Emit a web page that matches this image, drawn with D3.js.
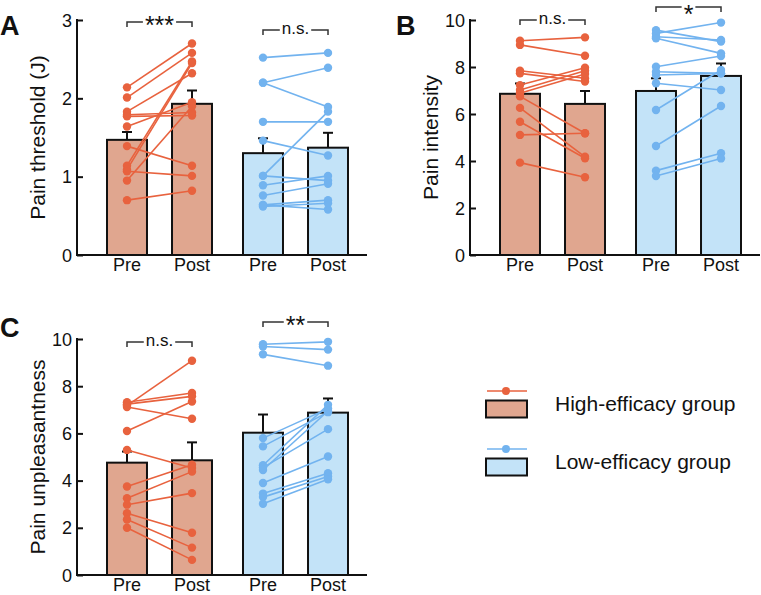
<!DOCTYPE html>
<html lang="en">
<head>
<meta charset="UTF-8">
<title>Pain ratings</title>
<script src="https://d3js.org/d3.v7.min.js"></script>
<style>
  body { margin: 0; background: #fff; }
  svg { display: block; font-family: Arial, "Liberation Sans", sans-serif; }
</style>
</head>
<body>
<svg id="chart" width="761" height="595"></svg>
<script>
// ---- data ----
const groups = ['High', 'Low'];
const phases = ['Pre', 'Post'];
const legendLabels = ['High-efficacy group', 'Low-efficacy group'];

// panel A: pain threshold (J)
const threshHighPre  = [2.14, 2.01, 1.83, 1.79, 1.77, 1.64, 1.39, 1.14, 1.09, 1.07, 0.95, 0.70];
const threshHighPost = [2.70, 2.58, 2.32, 1.82, 1.78, 1.95, 1.14, 2.47, 2.45, 1.01, 1.90, 0.82];
const threshLowPre   = [2.52, 2.20, 2.20, 1.70, 1.46, 1.01, 1.01, 0.89, 0.76, 0.64, 0.64, 0.62];
const threshLowPost  = [2.58, 2.39, 1.89, 1.70, 1.27, 1.83, 0.95, 1.01, 0.91, 0.70, 0.58, 0.66];
const threshMeans = [1.47, 1.93, 1.30, 1.37];
const threshSem   = [0.10, 0.17, 0.19, 0.19];

// panel B: pain intensity
const intensHighPre  = [9.12, 8.94, 7.84, 7.73, 7.23, 7.02, 6.88, 6.75, 6.26, 5.67, 5.11, 3.93];
const intensHighPost = [9.26, 8.48, 7.52, 7.38, 7.97, 7.84, 7.70, 5.18, 4.18, 4.12, 5.18, 3.31];
const intensLowPre   = [9.57, 9.43, 9.29, 9.22, 8.01, 7.80, 7.66, 7.31, 6.17, 4.64, 3.59, 3.36];
const intensLowPost  = [9.08, 9.89, 9.15, 8.58, 8.47, 7.73, 7.73, 7.02, 7.87, 6.34, 4.33, 4.11];
const intensMeans = [6.86, 6.43, 6.98, 7.62];
const intensSem   = [0.44, 0.55, 0.54, 0.53];

// panel C: pain unpleasantness
const unplHighPre  = [7.32, 7.24, 7.18, 7.12, 6.10, 5.30, 3.75, 3.25, 2.98, 2.62, 2.35, 2.00];
const unplHighPost = [7.71, 7.57, 9.08, 6.62, 7.35, 4.53, 4.67, 4.38, 3.47, 1.79, 1.16, 0.64];
const unplLowPre   = [9.78, 9.68, 9.35, 5.80, 5.45, 4.65, 4.55, 4.45, 3.90, 3.45, 3.30, 3.02];
const unplLowPost  = [9.88, 9.55, 8.87, 7.05, 6.90, 7.21, 6.18, 6.95, 5.02, 4.31, 4.17, 4.06];
const unplMeans = [4.76, 4.86, 6.03, 6.88];
const unplSem   = [0.47, 0.76, 0.77, 0.60];

const threshTicks = [0, 1, 2, 3];
const ratingTicks = [0, 2, 4, 6, 8, 10];

// ---- styles ----
const lineColor = { High: '#e8623e', Low: '#72b3ef' };
const barColor  = { High: '#e0a68f', Low: '#c3e3f8' };

const svg = d3.select('#chart');

const panels = [
  { letter: 'A', lx: 0, ly: 35, ax: 77, top: 20, bottom: 255, max: 3, ticks: threshTicks,
    label: 'Pain threshold (J)', means: threshMeans, sem: threshSem,
    pts: { High: [threshHighPre, threshHighPost], Low: [threshLowPre, threshLowPost] },
    sig: [{ g: 'High', y: 22, t: '***' }, { g: 'Low', y: 30, t: 'n.s.' }] },
  { letter: 'B', lx: 396, ly: 35, ax: 470, top: 20, bottom: 255, max: 10, ticks: ratingTicks,
    label: 'Pain intensity', means: intensMeans, sem: intensSem,
    pts: { High: [intensHighPre, intensHighPost], Low: [intensLowPre, intensLowPost] },
    sig: [{ g: 'High', y: 20, t: 'n.s.' }, { g: 'Low', y: 7, t: '*' }] },
  { letter: 'C', lx: 0, ly: 337, ax: 77, top: 339, bottom: 575, max: 10, ticks: ratingTicks,
    label: 'Pain unpleasantness', means: unplMeans, sem: unplSem,
    pts: { High: [unplHighPre, unplHighPost], Low: [unplLowPre, unplLowPost] },
    sig: [{ g: 'High', y: 342, t: 'n.s.' }, { g: 'Low', y: 322, t: '**' }] }
];

const xGroup = d3.scaleBand().domain(groups).range([30, 271]).paddingInner(0.228);
const xPhase = d3.scaleBand().domain(phases).range([0, xGroup.bandwidth()]).paddingInner(0.385);

function drawPanel(p) {
  const g = svg.append('g').attr('transform', `translate(${p.ax},0)`);
  const y = d3.scaleLinear().domain([0, p.max]).range([p.bottom, p.top]);
  const bx = (grp, ph) => xGroup(grp) + xPhase(ph);
  const cx = (grp, ph) => bx(grp, ph) + xPhase.bandwidth() / 2;

  const bars = [];
  groups.forEach((grp, gi) => phases.forEach((ph, pi) => {
    bars.push({ grp, ph, mean: p.means[gi * 2 + pi], sem: p.sem[gi * 2 + pi] });
  }));

  g.selectAll('rect.bar').data(bars).join('rect')
    .attr('class', 'bar')
    .attr('x', d => bx(d.grp, d.ph))
    .attr('y', d => y(d.mean))
    .attr('width', xPhase.bandwidth())
    .attr('height', d => y(0) - y(d.mean))
    .attr('fill', d => barColor[d.grp])
    .attr('stroke', '#111')
    .attr('stroke-width', 2);

  // error bars (up only)
  const eb = g.selectAll('g.err').data(bars).join('g').attr('class', 'err')
    .attr('stroke', '#111').attr('stroke-width', 2);
  eb.append('line')
    .attr('x1', d => cx(d.grp, d.ph)).attr('x2', d => cx(d.grp, d.ph))
    .attr('y1', d => y(d.mean)).attr('y2', d => y(d.mean + d.sem));
  eb.append('line')
    .attr('x1', d => cx(d.grp, d.ph) - 5).attr('x2', d => cx(d.grp, d.ph) + 5)
    .attr('y1', d => y(d.mean + d.sem)).attr('y2', d => y(d.mean + d.sem));

  // paired subject lines and dots
  groups.forEach(grp => {
    const [pre, post] = p.pts[grp];
    const pairs = pre.map((v, i) => [v, post[i]]);
    g.append('g').selectAll('line').data(pairs).join('line')
      .attr('x1', cx(grp, 'Pre')).attr('x2', cx(grp, 'Post'))
      .attr('y1', d => y(d[0])).attr('y2', d => y(d[1]))
      .attr('stroke', lineColor[grp]).attr('stroke-width', 1.6);
    const dots = pre.map(v => [cx(grp, 'Pre'), v]).concat(post.map(v => [cx(grp, 'Post'), v]));
    g.append('g').selectAll('circle').data(dots).join('circle')
      .attr('cx', d => d[0]).attr('cy', d => y(d[1])).attr('r', 4.2)
      .attr('fill', lineColor[grp]);
  });

  // y axis, ticks pointing inward
  const yAxis = g.append('g')
    .call(d3.axisRight(y).tickValues(p.ticks).tickSize(6).tickFormat(''));
  yAxis.select('.domain').remove();
  yAxis.selectAll('.tick line').attr('stroke', '#111').attr('stroke-width', 2);
  g.append('line').attr('x1', 0).attr('x2', 0).attr('y1', y(0) + 1).attr('y2', y(p.max) - 1)
    .attr('stroke', '#111').attr('stroke-width', 2);
  g.selectAll('text.tl').data(p.ticks).join('text')
    .attr('class', 'tl')
    .attr('x', -5).attr('y', d => y(d) + 6.5)
    .attr('text-anchor', 'end').attr('font-size', 18).attr('fill', '#111')
    .text(d => d);

  // x axis line
  g.append('line').attr('x1', -1).attr('x2', 290).attr('y1', y(0)).attr('y2', y(0))
    .attr('stroke', '#111').attr('stroke-width', 2);
  g.selectAll('text.xl').data(bars).join('text')
    .attr('class', 'xl')
    .attr('x', d => cx(d.grp, d.ph)).attr('y', y(0) + 16)
    .attr('text-anchor', 'middle').attr('font-size', 18).attr('fill', '#111')
    .text(d => d.ph);

  // y label
  g.append('text')
    .attr('transform', `translate(-32,${(p.top + p.bottom) / 2}) rotate(-90)`)
    .attr('text-anchor', 'middle').attr('font-size', 21).attr('fill', '#111')
    .text(p.label);

  // significance brackets
  p.sig.forEach(s => {
    const x1 = cx(s.g, 'Pre'), x2 = cx(s.g, 'Post'), mid = (x1 + x2) / 2;
    const star = s.t.indexOf('*') === 0;
    const txt = g.append('text')
      .attr('x', mid).attr('y', star ? Math.max(s.y + 12, 23) : s.y + 4)
      .attr('text-anchor', 'middle').attr('font-size', star ? 25 : 17).attr('fill', '#111')
      .text(s.t);
    const half = txt.node().getComputedTextLength() / 2 + 2;
    const br = g.append('g').attr('stroke', '#333').attr('stroke-width', 1.5).attr('fill', 'none');
    br.append('path').attr('d', `M${x1},${s.y + 5}V${s.y}H${mid - half}`);
    br.append('path').attr('d', `M${x2},${s.y + 5}V${s.y}H${mid + half}`);
  });

  svg.append('text').attr('x', p.lx).attr('y', p.ly)
    .attr('font-size', 27).attr('font-weight', 'bold').attr('fill', '#111')
    .text(p.letter);
}

panels.forEach(drawPanel);

// legend
const legY = d3.scalePoint().domain(groups).range([391, 449]);
const leg = svg.append('g');
groups.forEach((grp, i) => {
  const ly = legY(grp);
  leg.append('line').attr('x1', 487).attr('x2', 527).attr('y1', ly).attr('y2', ly)
    .attr('stroke', lineColor[grp]).attr('stroke-width', 1.6);
  leg.append('circle').attr('cx', 506).attr('cy', ly).attr('r', 4).attr('fill', lineColor[grp]);
  leg.append('rect').attr('x', 486).attr('y', ly + 9.5).attr('width', 41).attr('height', 17)
    .attr('fill', barColor[grp]).attr('stroke', '#111').attr('stroke-width', 2);
  leg.append('text').attr('x', 555).attr('y', ly + 19.5)
    .attr('font-size', 21).attr('fill', '#111').text(legendLabels[i]);
});
</script>
</body>
</html>
